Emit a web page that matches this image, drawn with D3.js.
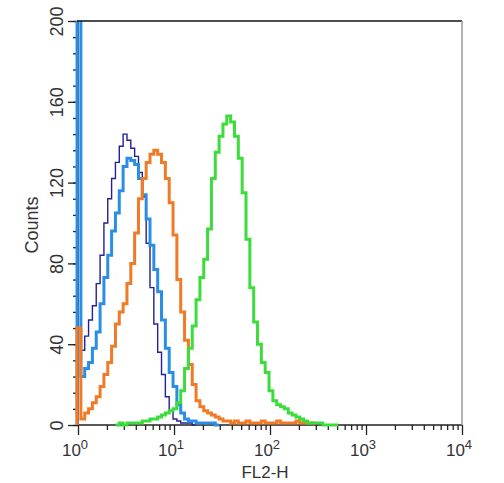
<!DOCTYPE html>
<html>
<head>
<meta charset="utf-8">
<script src="https://cdn.jsdelivr.net/npm/d3@7"></script>
<style>
  body { margin: 0; background: #fff; }
  text { font-family: "Liberation Sans", Arial, sans-serif; fill: #333; }
</style>
</head>
<body>
<script>
// Histogram channels: each bin spans binWidth decades, first bin starts at 10^binStart
const binWidth = 0.04;
const binStart = -0.01;

// counts per channel (null = no trace drawn there)
const navyCounts = [260, 37, 44, 52, 59, 70, 84, 100, 112, 122, 130, 138, 144, 141, 137, 133,
    125, 113, 90, 68, 50, 36, 25, 14, 7, 3, 2, 1, 1, 1, 0];
const blueCounts = [260, 24, 28, 31, 38, 46, 60, 73, 84, 96, 105, 116, 128, 132, 131, 129,
    122, 114, 102, 89, 77, 66, 52, 38, 26, 19, 10, 6, 3, 2, 2, 1, 1, 1, 1, 1, 0];
const orangeCounts = [48, 3, 6, 8, 11, 14, 19, 25, 31, 39, 50, 56, 60, 70, 80, 95,
    112, 122, 130, 134, 136, 134, 130, 122, 110, 94, 72, 56, 42, 30, 20, 12,
    9, 7, 6, 5, 4, 3, 2, 2, 1, 2, 1, 1, 2, 1, 1, 1, 2, 1, 1, 1, 2, 1, 1, 1,
    1, 2, 1, 1, 1, 1];
const greenCounts = [null, null, null, null, null, null, null, null, null, null,
    0, 1, 0, 1, 1, 1, 1, 2, 2, 3, 3, 4, 5, 6, 7, 8, 11, 17, 28, 38, 49, 62,
    73, 82, 97, 122, 135, 143, 149, 153, 150, 143, 132, 115, 92, 68, 51, 40,
    31, 26, 17, 12, 10, 9, 8, 6, 5, 4, 3, 2, 1, 1, 1, 1, 0, 0, 0, 0];

const yMajor = [0, 40, 80, 120, 160, 200];
const xDecades = [1, 10, 100, 1000, 10000];
const decadeExp = ["0", "1", "2", "3", "4"];

const series = [
    {name: "navy", values: navyCounts, color: "#22209a", width: 1.4},
    {name: "blue", values: blueCounts, color: "#2a8fe4", width: 3},
    {name: "orange", values: orangeCounts, color: "#f07a26", width: 3},
    {name: "green", values: greenCounts, color: "#3cdc3c", width: 3}
];

const margin = {top: 21, right: 42, bottom: 58, left: 78},
    W = 504, H = 483,
    width = W - margin.left - margin.right,
    height = H - margin.top - margin.bottom;

const x = d3.scaleLog().domain([1, 1e4]).range([0, width]);
const y = d3.scaleLinear().domain([0, 200]).range([height, 0]);

const svg = d3.select("body").append("svg")
    .attr("width", W)
    .attr("height", H);

const g = svg.append("g")
    .attr("transform", "translate(" + margin.left + "," + margin.top + ")");

// y axis: minor ticks every 8, labelled majors every 40
const yMinor = g.append("g")
    .call(d3.axisLeft(y).tickValues(d3.range(0, 201, 8)).tickSize(5).tickFormat(""));
const yAxis = g.append("g")
    .call(d3.axisLeft(y).tickValues(yMajor).tickSize(10));
yAxis.selectAll("text")
    .attr("transform", "rotate(-90)")
    .attr("x", 0)
    .attr("y", -15)
    .attr("dy", 0)
    .attr("text-anchor", "middle")
    .style("font-size", "18px");

// x axis: log decades with minor 2..9
let minor = [];
xDecades.slice(0, 4).forEach(d => { for (let k = 2; k < 10; k++) minor.push(d * k); });
const xMinor = g.append("g")
    .attr("transform", "translate(0," + height + ")")
    .call(d3.axisBottom(x).tickValues(minor).tickSize(5).tickFormat(""));
const xAxis = g.append("g")
    .attr("transform", "translate(0," + height + ")")
    .call(d3.axisBottom(x).tickValues(xDecades).tickSize(10).tickFormat(""));

[yMinor, yAxis, xMinor, xAxis].forEach(a => {
    a.select(".domain").remove();
    a.selectAll("line").attr("stroke", "#222").attr("stroke-width", 1.3);
});

const xLab = g.append("g").selectAll("text")
    .data(xDecades)
    .enter().append("text")
    .attr("x", d => x(d) - 3)
    .attr("y", height + 31)
    .attr("text-anchor", "middle")
    .style("font-size", "17px");
xLab.append("tspan").text("10");
xLab.append("tspan")
    .attr("dy", -7)
    .style("font-size", "13px")
    .text((d, i) => decadeExp[i]);

// axis titles
g.append("text")
    .attr("x", width / 2 - 5)
    .attr("y", height + 53)
    .attr("text-anchor", "middle")
    .style("font-size", "17px")
    .text("FL2-H");

g.append("text")
    .attr("transform", "translate(" + (-40) + "," + (height / 2 + 2) + ") rotate(-90)")
    .attr("text-anchor", "middle")
    .style("font-size", "18px")
    .text("Counts");

// clip the off-scale channels at the top frame
svg.append("defs").append("clipPath").attr("id", "plot-clip")
    .append("rect")
    .attr("x", -4).attr("y", 0)
    .attr("width", width + 4).attr("height", height + 3);

const line = d3.line()
    .x(d => x(d[0]))
    .y(d => y(d[1]))
    .curve(d3.curveStepAfter);

function edge(i) { return Math.pow(10, binStart + i * binWidth); }

function stepPoints(values) {
    let pts = [];
    let last = null;
    values.forEach((v, i) => {
        if (v === null) return;
        if (!pts.length) pts.push([edge(i), 0]);
        pts.push([edge(i), v]);
        last = i;
    });
    pts.push([edge(last + 1), values[last]]);
    return pts;
}

// frame: bottom axis line and left axis line
g.append("line").attr("x1", 0).attr("x2", width).attr("y1", height).attr("y2", height)
    .attr("stroke", "#222").attr("stroke-width", 1.5);
g.append("line").attr("x1", 0).attr("x2", 0).attr("y1", 0).attr("y2", height)
    .attr("stroke", "#222").attr("stroke-width", 1.5);

g.append("g").attr("clip-path", "url(#plot-clip)")
    .selectAll("path.trace")
    .data(series)
    .enter().append("path")
    .attr("class", "trace")
    .attr("fill", "none")
    .attr("stroke", d => d.color)
    .attr("stroke-width", d => d.width)
    .attr("stroke-linejoin", "miter")
    .attr("d", d => line(stepPoints(d.values)));

// top line and grey right edge
g.append("line").attr("x1", -1).attr("x2", width).attr("y1", 0).attr("y2", 0)
    .attr("stroke", "#111").attr("stroke-width", 1.5);
g.append("line").attr("x1", width).attr("x2", width).attr("y1", 0).attr("y2", height)
    .attr("stroke", "#999").attr("stroke-width", 1.5);
</script>
</body>
</html>
